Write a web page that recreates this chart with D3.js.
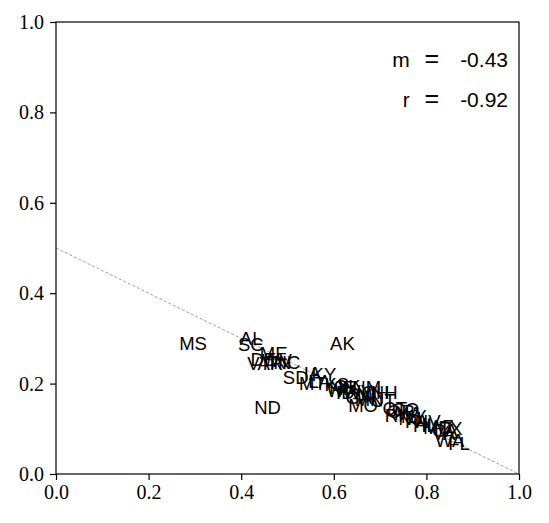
<!DOCTYPE html>
<html>
<head>
<meta charset="utf-8">
<script src="https://cdn.jsdelivr.net/npm/d3@7"></script>
<style>
  body { margin: 0; background: #fff; }
</style>
</head>
<body>
<svg id="chart" width="549" height="523"></svg>
<script>
// state labels, positioned at (x, y) in data units
const states = ["MS", "SC", "AL", "VT", "DE", "ME", "AR", "WV", "TN", "NC",
  "ND", "AK", "SD", "IA", "KY", "MT", "LA", "KS", "NE", "OK",
  "WI", "IN", "MO", "NM", "ID", "WY", "MI", "OH", "NH", "GA",
  "MN", "UT", "CT", "OR", "RI", "MA", "CO", "NY", "NJ", "HI",
  "PA", "NV", "VA", "IL", "AZ", "TX", "MD", "CA", "WA", "FL"];
const xVals = [0.266, 0.393, 0.397, 0.413, 0.420, 0.440, 0.435, 0.445, 0.455, 0.470,
  0.428, 0.592, 0.490, 0.535, 0.552, 0.525, 0.545, 0.580, 0.590, 0.600,
  0.585, 0.610, 0.631, 0.640, 0.605, 0.620, 0.650, 0.660, 0.680, 0.625,
  0.645, 0.680, 0.705, 0.715, 0.710, 0.730, 0.725, 0.745, 0.740, 0.771,
  0.754, 0.775, 0.812, 0.790, 0.808, 0.827, 0.793, 0.812, 0.819, 0.847];
const yVals = [0.274, 0.272, 0.285, 0.230, 0.239, 0.252, 0.230, 0.236, 0.232, 0.232,
  0.133, 0.274, 0.199, 0.208, 0.206, 0.186, 0.190, 0.183, 0.178, 0.180,
  0.170, 0.175, 0.137, 0.178, 0.165, 0.168, 0.160, 0.167, 0.166, 0.155,
  0.150, 0.148, 0.130, 0.125, 0.115, 0.120, 0.128, 0.113, 0.108, 0.093,
  0.102, 0.102, 0.075, 0.095, 0.091, 0.086, 0.088, 0.082, 0.060, 0.053];

// fit line drawn between these two points
const lineX = [0, 1];
const lineY = [0.5, 0];

const ticks = [0, 0.2, 0.4, 0.6, 0.8, 1.0];
const statNames = ["m", "r"];
const statValues = ["-0.43", "-0.92"];

const margin = { top: 22, right: 30, bottom: 49, left: 56 };
const width = 549 - margin.left - margin.right;
const height = 523 - margin.top - margin.bottom;

const svg = d3.select("#chart");
const g = svg.append("g")
  .attr("transform", "translate(" + margin.left + "," + margin.top + ")");

const x = d3.scaleLinear().domain([0, 1]).range([0, width]);
const y = d3.scaleLinear().domain([0, 1]).range([height, 0]);

// dashed fit line
g.append("line")
  .attr("x1", x(lineX[0])).attr("y1", y(lineY[0]))
  .attr("x2", x(lineX[1])).attr("y2", y(lineY[1]))
  .attr("stroke", "#888")
  .attr("stroke-width", 0.8)
  .attr("stroke-dasharray", "3,2");

// state labels
g.append("g")
  .selectAll("text")
  .data(states)
  .enter().append("text")
  .style("font-family", "'Liberation Sans', Arial, sans-serif")
  .style("font-size", "18.5px")
  .attr("fill", "#000")
  .attr("x", (d, i) => x(xVals[i]))
  .attr("y", (d, i) => y(yVals[i]))
  .text(d => d);

// frame
g.append("rect")
  .attr("width", width).attr("height", height)
  .attr("fill", "none")
  .attr("stroke", "#000")
  .attr("stroke-width", 1.2);

const fmt = d3.format(".1f");

const xAxis = g.append("g")
  .attr("transform", "translate(0," + height + ")")
  .call(d3.axisBottom(x).tickValues(ticks).tickFormat(fmt).tickSize(6).tickPadding(5));
const yAxis = g.append("g")
  .call(d3.axisLeft(y).tickValues(ticks).tickFormat(fmt).tickSize(6).tickPadding(6));

[xAxis, yAxis].forEach(a => {
  a.select(".domain").remove();
  a.selectAll(".tick line").attr("stroke", "#000").attr("stroke-width", 1.2);
  a.selectAll(".tick text")
    .style("font-family", "'Liberation Serif', 'DejaVu Serif', serif")
    .style("font-size", "20px")
    .attr("fill", "#000");
});

// stats text: name = value, with a wider equals sign
const stat = g.append("g")
  .selectAll("text")
  .data(statNames)
  .enter().append("text")
  .style("font-family", "'Liberation Sans', Arial, sans-serif")
  .style("font-size", "21px")
  .attr("fill", "#000")
  .attr("x", width - 11)
  .attr("y", (d, i) => 45 + i * 40)
  .attr("text-anchor", "end");

stat.append("tspan").text(d => d + "\u2002\u2009");
stat.append("tspan").style("font-size", "25px").text("=");
stat.append("tspan").text((d, i) => "\u2003" + statValues[i]);
</script>
</body>
</html>
